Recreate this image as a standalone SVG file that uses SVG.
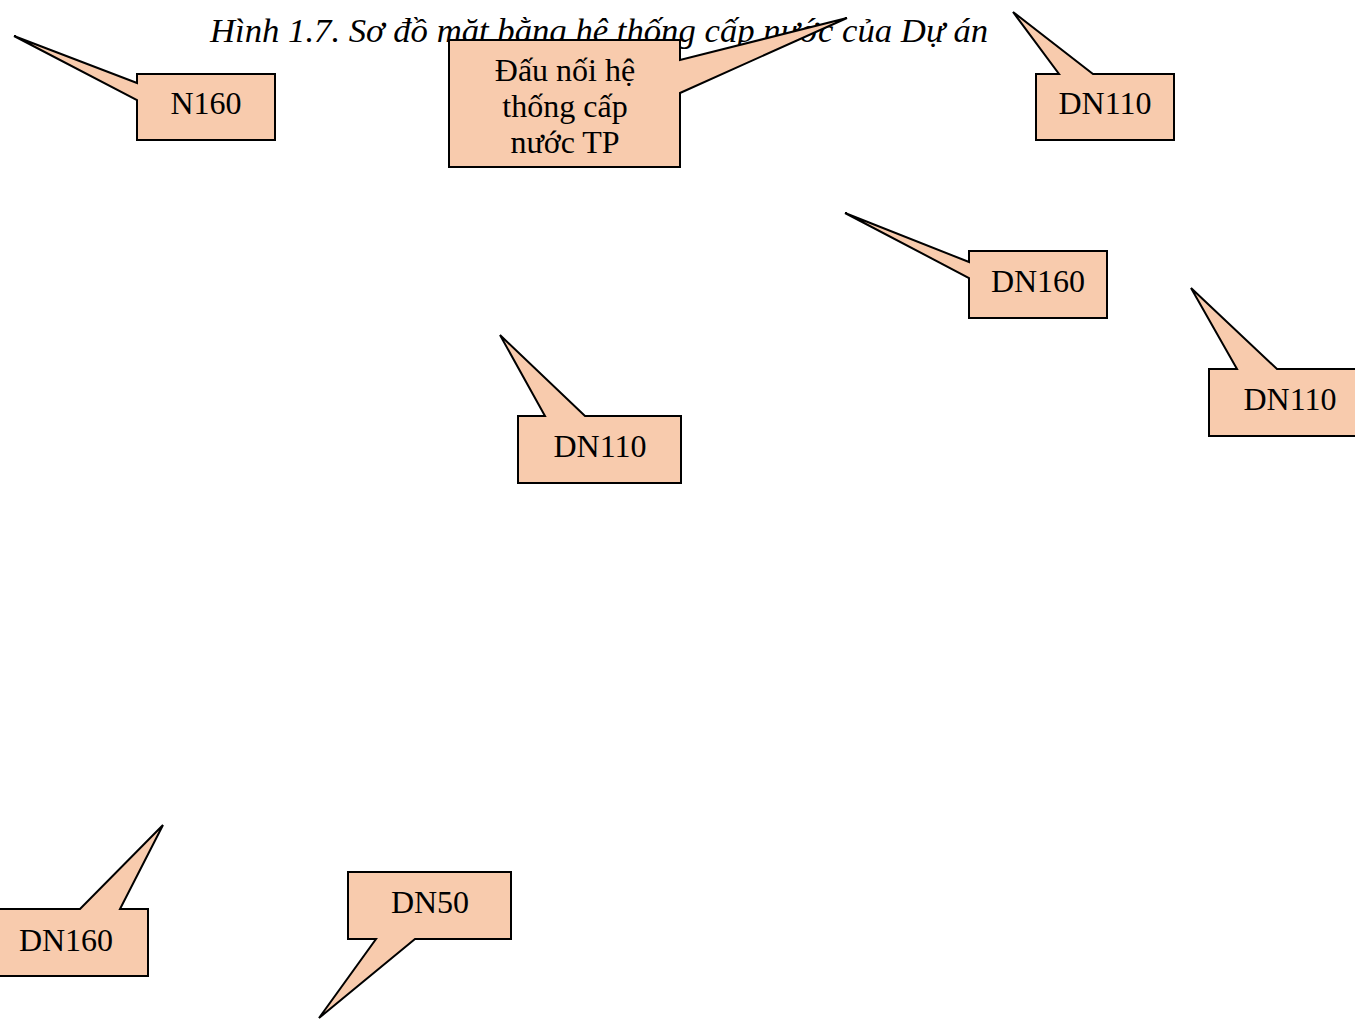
<svg xmlns="http://www.w3.org/2000/svg" width="1355" height="1019" viewBox="0 0 1355 1019">
<style>
.callout{fill:#F8CBAD;stroke:#000;stroke-width:2;stroke-linejoin:miter}
.lbl{font-family:"Liberation Serif","Times New Roman",serif;font-size:32px;fill:#000;text-anchor:middle}
.title{font-family:"Liberation Serif","Times New Roman",serif;font-size:34.7px;font-style:italic;fill:#000}
</style>
<rect width="1355" height="1019" fill="#fff"/>
<text class="title" x="210" y="42">Hình 1.7. Sơ đồ mặt bằng hệ thống cấp nước của Dự án</text>
<g id="connectors"></g>
<g id="n160">
<path class="callout" d="M137,74 H275 V140 H137 V100 L14,36 L137,83 Z"/>
<text class="lbl" x="206" y="114">N160</text>
</g>
<g id="dau-noi">
<path class="callout" d="M449,40 H680 V60 L847,18 L680,93 V167 H449 Z"/>
<text class="lbl" x="565" y="81">Đấu nối hệ</text>
<text class="lbl" x="565" y="117">thống cấp</text>
<text class="lbl" x="565" y="153">nước TP</text>
</g>
<g id="dn110-top">
<path class="callout" d="M1036,74 H1059 L1013,12 L1093,74 H1174 V140 H1036 Z"/>
<text class="lbl" x="1105" y="114">DN110</text>
</g>
<g id="dn160-mid">
<path class="callout" d="M969,251 H1107 V318 H969 V278 L845,213 L969,262 Z"/>
<text class="lbl" x="1038" y="292">DN160</text>
</g>
<g id="dn110-right">
<path class="callout" d="M1209,369 H1237 L1191,288 L1277,369 H1372 V436 H1209 Z"/>
<text class="lbl" x="1290" y="410">DN110</text>
</g>
<g id="dn110-mid">
<path class="callout" d="M518,416 H545 L500,335 L585,416 H681 V483 H518 Z"/>
<text class="lbl" x="600" y="457">DN110</text>
</g>
<g id="dn160-bottom">
<path class="callout" d="M-15,909 H80 L163,825 L120,909 H148 V976 H-15 Z"/>
<text class="lbl" x="66" y="951">DN160</text>
</g>
<g id="dn50">
<path class="callout" d="M348,872 H511 V939 H415 L319,1018 L376,939 H348 Z"/>
<text class="lbl" x="430" y="913">DN50</text>
</g>
</svg>
